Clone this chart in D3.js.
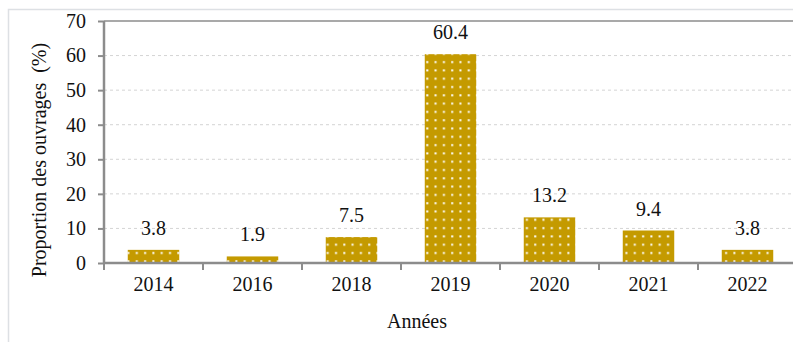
<!DOCTYPE html>
<html>
<head>
<meta charset="utf-8">
<script src="https://d3js.org/d3.v7.min.js"></script>
<style>
  body { margin: 0; background: #fff; }
  text { font-family: "Liberation Serif", "Times New Roman", serif; fill: #111; }
</style>
</head>
<body>
<script>
// données
var years = ["2014", "2016", "2018", "2019", "2020", "2021", "2022"];
var values = [3.8, 1.9, 7.5, 60.4, 13.2, 9.4, 3.8];
var yTicks = [0, 10, 20, 30, 40, 50, 60, 70];

var W = 793, H = 342;
var mLeft = 104, mRight = 797, mTop = 21, mBottom = 263;

var svg = d3.select("body").append("svg")
    .attr("width", W).attr("height", H);

// motif à pois blancs
var defs = svg.append("defs");
var pat = defs.append("pattern")
    .attr("id", "dots")
    .attr("patternUnits", "userSpaceOnUse")
    .attr("width", 8.3).attr("height", 8.3);
pat.append("rect").attr("width", 8.3).attr("height", 8.3).attr("fill", "#C49A00");
pat.append("rect").attr("x", 3).attr("y", 3).attr("width", 2).attr("height", 2).attr("fill", "#fff");

// cadre extérieur
svg.append("rect")
    .attr("x", 8.5).attr("y", 9.5)
    .attr("width", W).attr("height", H)
    .attr("fill", "none").attr("stroke", "#dde0e4").attr("stroke-width", 1.5);

var x = d3.scaleBand().domain(years).range([mLeft, mRight]).paddingInner(0.48).paddingOuter(0.24);
var y = d3.scaleLinear().domain([0, 70]).range([mBottom, mTop]);

// grille
svg.append("g").selectAll("line")
    .data(yTicks.filter(function (d) { return d > 0 && d < 70; }))
    .join("line")
    .attr("x1", mLeft).attr("x2", mRight)
    .attr("y1", function (d) { return y(d); })
    .attr("y2", function (d) { return y(d); })
    .attr("stroke", "#d4d4d4")
    .attr("stroke-dasharray", "3,3");

// bordure haute
svg.append("line")
    .attr("x1", mLeft).attr("x2", mRight)
    .attr("y1", mTop).attr("y2", mTop)
    .attr("stroke", "#8c8c8c").attr("stroke-width", 1.5);

// barres
svg.append("g").selectAll("rect")
    .data(values)
    .join("rect")
    .attr("x", function (d, i) { return x(years[i]); })
    .attr("y", function (d) { return y(d); })
    .attr("width", x.bandwidth())
    .attr("height", function (d) { return mBottom - y(d); })
    .attr("fill", "url(#dots)");

// étiquettes des valeurs
svg.append("g").selectAll("text")
    .data(values)
    .join("text")
    .attr("x", function (d, i) { return x(years[i]) + x.bandwidth() / 2; })
    .attr("y", function (d) { return y(d) - 15; })
    .attr("text-anchor", "middle")
    .style("font-size", "20px")
    .text(function (d) { return d.toFixed(1); });

// axe Y
var yAxis = svg.append("g")
    .attr("transform", "translate(" + mLeft + ",0)")
    .call(d3.axisLeft(y).tickValues(yTicks).tickSize(6).tickPadding(12));
yAxis.selectAll("text").style("font-size", "20px").attr("fill", "#111");

// axe X (ticks aux bornes des catégories)
var xAxis = svg.append("g")
    .attr("transform", "translate(0," + mBottom + ")")
    .call(d3.axisBottom(x).tickSize(0).tickPadding(14));
xAxis.selectAll("text").style("font-size", "20px").attr("fill", "#111");
var step = x.step();
xAxis.selectAll(".bound")
    .data(d3.range(years.length + 1))
    .join("line")
    .attr("class", "bound")
    .attr("x1", function (i) { return mLeft + i * step; })
    .attr("x2", function (i) { return mLeft + i * step; })
    .attr("y1", 0).attr("y2", 7);

svg.selectAll(".domain").remove();
svg.selectAll(".tick line, .bound").attr("stroke", "#8c8c8c").attr("stroke-width", 2);

svg.append("line")
    .attr("x1", mLeft).attr("x2", mLeft).attr("y1", mTop).attr("y2", mBottom)
    .attr("stroke", "#8c8c8c").attr("stroke-width", 2.5);
svg.append("line")
    .attr("x1", mLeft).attr("x2", mRight).attr("y1", mBottom).attr("y2", mBottom)
    .attr("stroke", "#8c8c8c").attr("stroke-width", 2.5);

// titres des axes
svg.append("text")
    .attr("transform", "translate(46,160) rotate(-90)")
    .attr("text-anchor", "middle")
    .style("font-size", "20px")
    .style("white-space", "pre")
    .text("Proportion des ouvrages  (%)");

svg.append("text")
    .attr("x", 417).attr("y", 328)
    .attr("text-anchor", "middle")
    .style("font-size", "20px")
    .text("Années");
</script>
</body>
</html>
